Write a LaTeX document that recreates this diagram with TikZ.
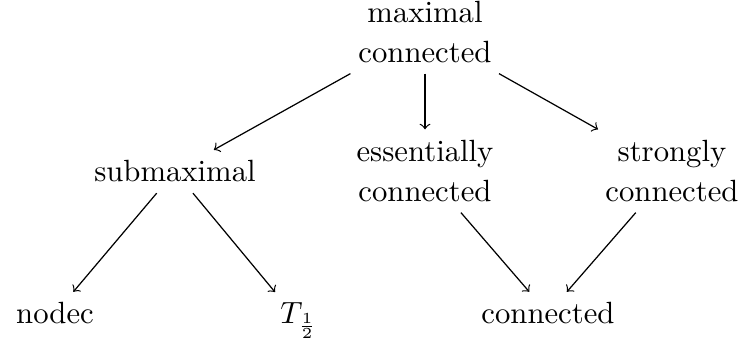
\documentclass[tikz,border=0pt]{standalone}
\begin{document}
\begin{tikzpicture}[x=0.3257pt,y=-0.3257pt,
  lbl/.style={align=center,font=\fontsize{10}{13}\selectfont},
  arr/.style={->}]
\useasboundingbox (0,0) rectangle (743,340);
\node[lbl] (top) at (425,32) {maximal\\connected};
\node[lbl,anchor=base] (sub) at (175,182) {submaximal};
\node[lbl] (ess) at (425,171) {essentially\\connected};
\node[lbl] (str) at (672,171) {strongly\\connected};
\node[lbl,anchor=base] (nod) at (55,324) {nodec};
\node[lbl,anchor=base] (thalf) at (299,324) {$T_{\frac12}$};
\node[lbl,anchor=base] (con) at (548,324) {connected};
\draw[arr] (top) -- (sub);
\draw[arr] (top) -- (ess);
\draw[arr] (top) -- (str);
\draw[arr] (sub) -- (nod);
\draw[arr] (sub) -- (thalf);
\draw[arr] (ess) -- (con);
\draw[arr] (str) -- (con);
\end{tikzpicture}
\end{document}
